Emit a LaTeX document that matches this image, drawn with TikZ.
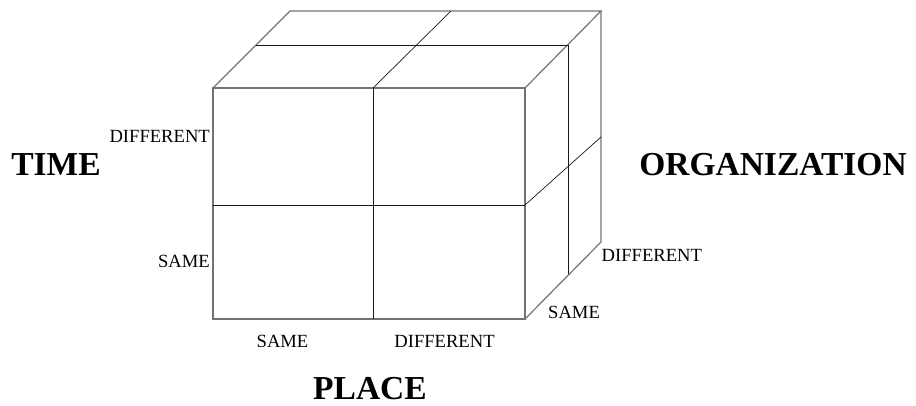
\documentclass[tikz,border=0pt]{standalone}
\usepackage{fontspec}
\setmainfont{Liberation Serif}
\begin{document}
\begin{tikzpicture}[x=1pt,y=-1pt,
  outer/.style={line width=1.2pt,black!55},
  inner/.style={line width=0.7pt,black!90},
  lbl/.style={inner sep=0pt,font=\fontsize{18.6}{20}\selectfont},
  axis/.style={inner sep=0pt,font=\fontsize{33.5}{36}\selectfont\bfseries}]
\useasboundingbox (0,0) rectangle (916,406);
\coordinate (F1) at (213,88);
\coordinate (F2) at (525,88);
\coordinate (F3) at (525,319);
\coordinate (F4) at (213,319);
\coordinate (B1) at (290,11);
\coordinate (B2) at (601,11);
\coordinate (B3) at (601,242);
\coordinate (FT) at (373,88);
\coordinate (FB) at (373,319);
\coordinate (BT) at (451,11);
\coordinate (FL) at (213,205);
\coordinate (FR) at (525,205);
\coordinate (BR) at (601,137);
\coordinate (DL) at (256,45);
\coordinate (DR) at (568,45);
\coordinate (DB) at (568,274);

% outline of the cube
\draw[outer] (F1) -- (F2) -- (F3) -- (F4) -- cycle;
\draw[outer] (F1) -- (B1) -- (B2) -- (F2);
\draw[outer] (B2) -- (B3) -- (F3);

% dividing lines
\draw[inner] (FT) -- (FB);
\draw[inner] (FL) -- (FR);
\draw[inner] (FT) -- (BT);
\draw[inner] (DL) -- (DR);
\draw[inner] (DR) -- (DB);
\draw[inner] (FR) -- (BR);

\node[lbl,anchor=east] (tdiff) at (210,136) {DIFFERENT};
\node[lbl,anchor=east] (tsame) at (210,261.5) {SAME};
\node[lbl] (psame) at (282.5,341.5) {SAME};
\node[lbl] (pdiff) at (444.5,341.5) {DIFFERENT};
\node[lbl,anchor=west] (odiff) at (601.5,255) {DIFFERENT};
\node[lbl,anchor=west] (osame) at (548,312) {SAME};
\node[axis] (time) at (56,165) {TIME};
\node[axis] (org) at (773,165) {ORGANIZATION};
\node[axis] (place) at (370,388.5) {PLACE};
\end{tikzpicture}
\end{document}
